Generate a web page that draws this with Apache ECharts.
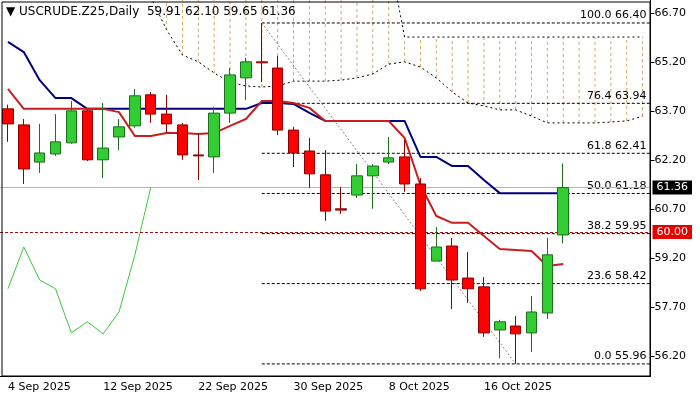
<!DOCTYPE html>
<html><head><meta charset="utf-8">
<script src="https://cdn.jsdelivr.net/npm/echarts@6/dist/echarts.min.js"></script>
<style>html,body{margin:0;padding:0;background:#fff}#c{width:700px;height:400px}</style>
</head><body><div id="c"></div>
<script>
const dates = ['4 Sep','5 Sep','8 Sep','9 Sep','10 Sep','11 Sep','12 Sep','15 Sep','16 Sep','17 Sep','18 Sep','19 Sep','22 Sep','23 Sep','24 Sep','25 Sep','26 Sep','29 Sep','30 Sep','1 Oct','2 Oct','3 Oct','6 Oct','7 Oct','8 Oct','9 Oct','10 Oct','13 Oct','14 Oct','15 Oct','16 Oct','17 Oct','20 Oct','21 Oct','22 Oct','23 Oct','f1','f2','f3','f4','f5'];
const xLabels = {0:'4 Sep 2025',6:'12 Sep 2025',12:'22 Sep 2025',18:'30 Sep 2025',24:'8 Oct 2025',30:'16 Oct 2025'};
const opens  = [63.77,63.28,62.14,62.39,62.73,63.71,62.21,62.91,63.25,64.20,63.61,63.28,62.36,62.30,63.64,64.72,65.21,65.02,63.12,62.48,61.75,60.71,61.13,61.72,62.14,62.30,61.47,59.11,59.57,58.59,58.32,57.00,57.12,56.91,57.52,59.91];
const highs  = [63.90,63.46,63.31,63.61,64.01,63.74,63.95,63.46,64.38,64.29,64.20,63.34,63.03,63.83,65.02,65.33,66.40,65.39,63.22,62.88,62.51,61.38,62.08,62.08,62.91,62.82,61.65,60.15,59.82,59.39,58.62,57.31,57.43,58.04,59.82,62.10];
const lows   = [62.76,61.47,61.81,62.33,62.70,62.17,61.65,62.51,63.19,63.34,63.03,62.21,61.59,61.81,63.34,64.04,64.59,62.97,61.99,61.35,60.34,60.55,61.04,60.71,62.08,61.23,58.19,59.11,57.64,57.83,56.79,56.14,55.96,56.33,57.34,59.65];
const closes = [63.31,61.93,62.42,62.76,63.71,62.21,62.57,63.22,64.17,63.61,63.31,62.36,62.33,63.64,64.81,65.21,65.18,63.12,62.42,61.78,60.64,60.67,61.72,62.02,62.27,61.47,58.26,59.54,58.53,58.26,56.91,57.25,56.88,57.55,59.30,61.36];
const kijun  = [65.82,65.51,64.65,64.10,64.10,63.77,63.77,63.77,63.77,63.77,63.77,63.77,63.77,63.77,63.77,63.77,63.95,63.95,63.92,63.65,63.40,63.40,63.40,63.40,63.40,63.40,62.30,62.30,62.02,62.02,61.59,61.19,61.19,61.19,61.19,61.19];
const tenkan = [64.38,63.77,63.77,63.77,63.77,63.77,63.77,63.67,62.94,62.94,63.03,63.03,63.00,63.03,63.25,63.46,64.01,64.01,63.95,63.80,63.40,63.40,63.40,63.40,63.40,62.88,61.44,60.49,60.28,60.28,59.88,59.48,59.45,59.42,58.96,59.02];
const spanLow  = [null,null,null,null,null,null,null,null,null,67.20,66.19,65.42,65.21,64.87,64.59,64.47,64.44,64.47,64.62,64.62,64.62,64.65,64.72,64.84,65.14,65.21,65.05,64.72,64.29,63.95,63.86,63.74,63.74,63.55,63.34,63.34,63.34,63.34,63.37,63.40,63.55];
const spanHigh = [null,null,null,null,null,null,null,null,null,68.5,68.5,68.5,68.5,68.5,68.5,68.5,68.5,68.5,68.5,68.5,68.5,68.5,68.5,68.5,68.5,65.97,65.97,65.97,65.97,65.97,65.97,65.97,65.97,65.97,65.97,65.97,65.97,65.97,65.97,65.97,65.97];
const fibLevels = [['100.0',66.40],['76.4',63.94],['61.8',62.41],['50.0',61.18],['38.2',59.95],['23.6',58.42],['0.0',55.96]];
const fibStart = 16, fibEnd = 32;
const yTicks = [56.20,57.70,59.20,60.70,62.20,63.70,65.20,66.70];
const lastPrice = 61.36, alertPrice = 60.00;
const title = 'USCRUDE.Z25,Daily  59.91 62.10 59.65 61.36';

const chikou = dates.map((d,i)=> (i+26 < closes.length) ? closes[i+26] : null);
const candleData = opens.map((o,i)=>[o,closes[i],lows[i],highs[i]]);
const FONT = 'DejaVu Sans';
const chart = echarts.init(document.getElementById('c'));
chart.setOption({
  animation:false,
  grid:{left:-3,right:49.5,top:0,bottom:24},
  xAxis:{type:'category',data:dates,boundaryGap:true,
    axisLine:{lineStyle:{color:'#000'}},
    axisTick:{alignWithLabel:true,interval:(i)=>xLabels[i]!==undefined,length:4,lineStyle:{color:'#000'}},
    axisLabel:{interval:(i)=>xLabels[i]!==undefined,formatter:(v,i)=>xLabels[i]||'',align:'left',margin:6,color:'#000',fontFamily:FONT,fontSize:11},
    splitLine:{show:false}},
  yAxis:{type:'value',position:'right',min:55.59,max:67.104,
    axisLine:{show:true,lineStyle:{color:'#000'}},
    axisTick:{show:true,customValues:yTicks,length:4,lineStyle:{color:'#000'}},
    axisLabel:{customValues:yTicks,formatter:v=>v.toFixed(2),color:'#000',fontFamily:FONT,fontSize:11,margin:4},
    splitLine:{show:false}},
  graphic:[
    {type:'rect',shape:{x:2,y:2,width:648,height:374},style:{fill:null,stroke:'#000',lineWidth:1},z:100,silent:true},
    {type:'text',left:6,top:6,style:{text:'▼ '+title,fill:'#000',font:'12px "DejaVu Sans"'},z:100}
  ],
  series:[
    {type:'custom',name:'cloud',z:1,data:spanLow.map((v,i)=>[i,v,spanHigh[i]]).filter(d=>d[1]!=null),
      renderItem:(p,api)=>{const a=api.coord([api.value(0),api.value(1)]);const b=api.coord([api.value(0),api.value(2)]);
        return {type:'line',shape:{x1:a[0],y1:a[1],x2:b[0],y2:b[1]},style:{stroke:'#D9A45B',lineWidth:1,lineDash:[3,3]}};},
      clip:true},
    {type:'line',data:spanLow,symbol:'none',z:2,lineStyle:{color:'#000',width:1,type:[2,3]}},
    {type:'line',data:spanHigh,symbol:'none',z:2,lineStyle:{color:'#000',width:1,type:[2,3]}},
    {type:'custom',name:'fib',z:3,data:fibLevels.map(f=>[fibStart,f[1],f[0]]),
      renderItem:(p,api)=>{const a=api.coord([api.value(0),api.value(1)]);const right=p.coordSys.x+p.coordSys.width;
        const lv=fibLevels[p.dataIndex];
        return {type:'group',children:[
          {type:'line',shape:{x1:a[0],y1:a[1],x2:right,y2:a[1]},style:{stroke:'#000',lineWidth:1,lineDash:[3,2]}},
          {type:'text',style:{x:right-4,y:a[1]-2,text:lv[0]+' '+lv[1].toFixed(2),align:'right',verticalAlign:'bottom',fill:'#000',font:'11px "DejaVu Sans"'}}]};},
      clip:false},
    {type:'line',data:chikou,symbol:'none',z:4,lineStyle:{color:'#3CC83C',width:1}},
    {type:'line',data:kijun,symbol:'none',z:5,lineStyle:{color:'#00007F',width:2}},
    {type:'line',data:tenkan,symbol:'none',z:6,lineStyle:{color:'#C81E1E',width:2},
      markLine:{symbol:'none',silent:true,data:[
        [{coord:[fibStart,66.40]},{coord:[fibEnd,55.96]}]],
        lineStyle:{color:'#888',type:[2,2],width:1},label:{show:false}}},
    {type:'candlestick',data:candleData,barWidth:11,z:8,
      itemStyle:{color:'#32CD32',color0:'#FF0000',borderColor:'#1E6E1E',borderColor0:'#8B0000',borderWidth:1},
      markLine:{symbol:'none',silent:true,data:[
        {yAxis:lastPrice,lineStyle:{color:'#B4B4B4',type:'solid',width:1},
          label:{position:'end',formatter:lastPrice.toFixed(2),color:'#fff',backgroundColor:'#000',padding:[2,4,1,4],distance:2,fontFamily:FONT,fontSize:11}},
        {yAxis:alertPrice,lineStyle:{color:'#A01010',type:[3,2],width:1},
          label:{position:'end',formatter:alertPrice.toFixed(2),color:'#fff',backgroundColor:'#E80000',padding:[2,4,1,4],distance:2,fontFamily:FONT,fontSize:11}}]}}
  ]
});
</script></body></html>
